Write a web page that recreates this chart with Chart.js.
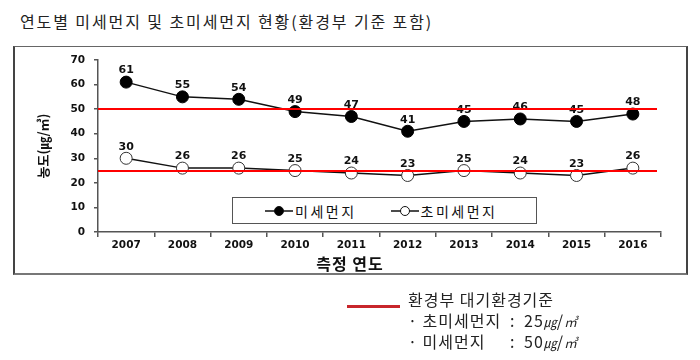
<!DOCTYPE html>
<html>
<head>
<meta charset="utf-8">
<script src="https://cdn.jsdelivr.net/npm/chart.js@4/dist/chart.umd.min.js"></script>
<style>
  html, body { margin:0; padding:0; background:#fff; }
  body { width:700px; height:360px; position:relative; overflow:hidden; font-family:"Noto Sans CJK KR", sans-serif; }
  #title { position:absolute; left:20px; top:9px; font-size:16px; color:#222; letter-spacing:1.9px; white-space:nowrap; line-height:24px; }
  #frame { position:absolute; left:13px; top:46px; width:671px; height:226px; border:1px solid #666; border-left:2px solid #444; border-bottom:2px solid #777; border-right:2px solid #444; }
  canvas { position:absolute; left:0; top:0; }
  #xtitle { position:absolute; left:250px; width:200px; top:252px; text-align:center; font-weight:bold; font-size:16px; letter-spacing:1px; color:#111; line-height:22px; }
  #legend { position:absolute; left:232px; top:197px; width:303px; height:25px; border:1px solid #555; background:#fff; display:flex; align-items:center; font-size:14px; letter-spacing:2.5px; color:#111; }
  .item { display:flex; align-items:center; white-space:nowrap; }
  .item svg { margin-right:2px; }
  #stdline { position:absolute; left:347px; top:305px; width:53px; height:3px; background:#c8262b; }
  .nl { position:absolute; left:408px; font-size:16px; color:#222; white-space:nowrap; line-height:20px; letter-spacing:1px; }
  .nl span.k { display:inline-block; width:102px; white-space:nowrap; }
  .nl span.c { display:inline-block; width:14px; }
  .unit { font-style:italic; font-size:13px; letter-spacing:0; }
</style>
</head>
<body>
<div id="title">연도별 미세먼지 및 초미세먼지 현황(환경부 기준 포함)</div>
<div id="frame"></div>
<canvas id="c" width="700" height="360"></canvas>
<div id="xtitle">측정 연도</div>
<div id="legend"></div>
<div id="stdline"></div>
<div class="nl" style="top:289px;">환경부 대기환경기준</div>
<div class="nl" style="top:310px;"><span class="k">· 초미세먼지</span><span class="c">:</span>25<span class="unit">㎍</span>/<span class="unit">㎥</span></div>
<div class="nl" style="top:331px;"><span class="k">· 미세먼지</span><span class="c">:</span>50<span class="unit">㎍</span>/<span class="unit">㎥</span></div>
<script>
const years = ['2007','2008','2009','2010','2011','2012','2013','2014','2015','2016'];
const pm10 = [61, 55, 54, 49, 47, 41, 45, 46, 45, 48];
const pm25 = [30, 26, 26, 25, 24, 23, 25, 24, 23, 26];
const seriesNames = ['미세먼지', '초미세먼지'];
const standards = [50, 25];
const yMin = 0, yMax = 70, yStep = 10;

const tickFont = { family: 'DejaVu Sans', weight: 'bold', size: 10.5 };

const labelPlugin = {
  id: 'labelsAndStd',
  afterDatasetsDraw(chart) {
    const ctx = chart.ctx;
    ctx.save();
    ctx.font = 'bold 11px "DejaVu Sans"';
    ctx.fillStyle = '#111';
    ctx.textAlign = 'center';
    ctx.textBaseline = 'bottom';
    chart.data.datasets.forEach((ds, i) => {
      const meta = chart.getDatasetMeta(i);
      meta.data.forEach((pt, j) => {
        ctx.fillText(String(ds.data[j]), pt.x, pt.y - 6);
      });
    });
    const ys = chart.scales.y;
    const area = chart.chartArea;
    ctx.strokeStyle = '#ff0000';
    ctx.lineWidth = 2;
    standards.forEach(v => {
      const y = Math.round(ys.getPixelForValue(v));
      ctx.beginPath();
      ctx.moveTo(area.left, y);
      ctx.lineTo(area.right - 4, y);
      ctx.stroke();
    });
    ctx.restore();
  }
};

new Chart(document.getElementById('c'), {
  type: 'line',
  data: {
    labels: years,
    datasets: [
      { label: seriesNames[0], data: pm10, borderColor: '#111', borderWidth: 1.5, pointRadius: 6, pointBackgroundColor: '#000', pointBorderColor: '#000', pointBorderWidth: 1, tension: 0 },
      { label: seriesNames[1], data: pm25, borderColor: '#111', borderWidth: 1.5, pointRadius: 6, pointBackgroundColor: '#fff', pointBorderColor: '#333', pointBorderWidth: 1, tension: 0 }
    ]
  },
  options: {
    responsive: false,
    animation: false,
    events: [],
    layout: { padding: { top: 60, left: 32, right: 39, bottom: 98 } },
    plugins: { legend: { display: false }, tooltip: { enabled: false } },
    scales: {
      x: {
        offset: true,
        grid: { offset: true, drawOnChartArea: false, tickLength: 5, color: '#555', lineWidth: 1.5 },
        border: { color: '#555', width: 1.5 },
        ticks: { font: tickFont, color: '#111', padding: 2, maxRotation: 0 },
        afterFit(s) { s.height = 30; }
      },
      y: {
        min: yMin, max: yMax,
        grid: { drawOnChartArea: false, tickLength: 4, color: '#555', lineWidth: 1.5 },
        border: { color: '#555', width: 1.5 },
        ticks: { stepSize: yStep, font: tickFont, color: '#111', padding: 9 },
        title: { display: true, text: '농도(㎍/㎥)', font: { family: 'Noto Sans CJK KR', weight: 'bold', size: 13 }, color: '#111', padding: { top: 3, bottom: 0 } },
        afterFit(s) { s.width = 66; }
      }
    }
  },
  plugins: [labelPlugin]
});

// legend built from series names
const legend = document.getElementById('legend');
const fills = ['#000', '#fff'];
const gaps = [32, 34];
seriesNames.forEach((name, i) => {
  const it = document.createElement('div');
  it.className = 'item';
  it.style.marginLeft = gaps[i] + 'px';
  it.innerHTML = '<svg width="28" height="12"><line x1="0" y1="6" x2="28" y2="6" stroke="#111" stroke-width="1.5"/><circle cx="14" cy="6" r="4.5" fill="' + fills[i] + '" stroke="#111" stroke-width="1"/></svg><span>' + name + '</span>';
  legend.appendChild(it);
});
</script>
</body>
</html>
